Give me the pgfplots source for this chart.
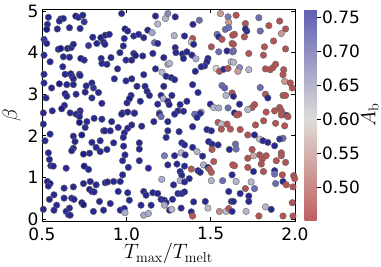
\documentclass[border=0pt]{standalone}
\usepackage[no-math]{fontspec}
\setmainfont{DejaVu Sans}
\usepackage{pgfplots}
\usepackage{pgfplotstable}
\pgfplotsset{compat=1.18}
\pgfplotsset{
  colormap={pts}{rgb255(0)=(170,70,70); rgb255(7)=(188,92,92); rgb255(15)=(216,212,206); rgb255(21)=(160,165,205); rgb255(31.2)=(25,25,140)},
  colormap={cbar}{rgb255(0)=(190,95,95); rgb255(15)=(222,220,215); rgb255(31.2)=(95,95,180)},
}
\pgfplotstableread{
x y z
0.538 4.85 0.75
0.611 4.81 0.76
0.627 4.82 0.75
0.603 4.76 0.75
0.700 4.88 0.76
0.716 4.85 0.75
0.742 4.90 0.75
0.750 4.74 0.74
0.532 4.68 0.75
0.528 4.56 0.76
0.591 4.57 0.75
0.663 4.60 0.75
0.726 4.58 0.75
0.512 4.32 0.74
0.528 4.22 0.75
0.597 4.08 0.75
0.611 4.10 0.76
0.651 4.10 0.75
0.673 4.12 0.75
0.686 4.20 0.75
0.801 4.37 0.75
0.849 4.36 0.76
0.875 4.42 0.75
0.825 4.22 0.75
0.865 4.25 0.75
0.776 4.17 0.74
0.512 3.94 0.75
0.627 3.90 0.75
0.663 3.89 0.75
0.730 3.86 0.76
0.750 3.82 0.75
0.851 3.86 0.75
0.855 3.74 0.75
0.548 3.78 0.75
0.623 3.66 0.75
0.512 3.48 0.75
0.637 3.48 0.75
0.671 3.49 0.76
0.678 3.43 0.75
0.686 3.37 0.75
0.722 3.48 0.75
0.726 3.45 0.75
0.603 3.25 0.76
0.647 3.23 0.75
0.686 3.23 0.75
0.512 3.27 0.75
0.557 3.15 0.75
0.796 3.27 0.75
0.762 3.20 0.75
0.805 3.15 0.74
0.835 3.04 0.75
0.756 3.05 0.75
0.702 3.00 0.75
0.637 3.01 0.76
0.647 2.95 0.75
0.796 2.91 0.75
0.855 2.78 0.75
0.524 2.91 0.75
0.633 2.73 0.75
0.617 2.65 0.76
0.561 2.60 0.75
0.726 2.60 0.75
0.722 2.54 0.75
0.667 2.55 0.75
0.508 2.55 0.75
0.972 4.94 0.75
1.173 4.88 0.75
1.232 4.82 0.64
1.246 4.94 0.68
1.186 4.69 0.64
0.899 4.44 0.75
0.992 4.57 0.76
1.008 4.52 0.75
0.988 4.34 0.75
1.044 4.40 0.75
1.073 4.44 0.75
1.103 4.36 0.75
1.127 4.54 0.75
1.153 4.48 0.66
1.167 4.24 0.70
1.186 4.22 0.75
0.873 4.20 0.75
0.982 4.16 0.75
0.962 4.00 0.75
1.044 3.98 0.75
1.054 3.93 0.76
1.097 3.92 0.75
1.157 3.98 0.75
0.909 3.88 0.75
0.998 3.82 0.75
1.032 3.82 0.75
1.222 3.88 0.75
1.246 3.72 0.65
0.885 3.72 0.75
0.948 3.61 0.75
1.173 3.61 0.75
1.212 3.53 0.64
1.103 3.47 0.75
0.929 3.37 0.75
0.998 3.32 0.75
1.032 3.37 0.75
1.063 3.19 0.75
1.111 3.19 0.75
1.236 3.43 0.75
1.222 3.19 0.75
1.123 3.07 0.75
1.137 2.97 0.75
1.028 2.97 0.75
1.018 2.89 0.76
1.004 2.79 0.75
1.206 2.97 0.75
1.220 2.89 0.65
1.083 2.83 0.75
1.186 2.76 0.75
1.246 2.83 0.75
0.978 2.55 0.75
1.008 2.57 0.75
1.048 2.55 0.75
1.196 2.55 0.70
1.290 4.86 0.75
1.558 4.94 0.56
1.603 4.86 0.69
1.607 4.73 0.56
1.433 4.78 0.70
1.395 4.68 0.75
1.587 4.56 0.70
1.607 4.60 0.70
1.631 4.42 0.49
1.284 4.41 0.64
1.345 4.40 0.75
1.393 4.34 0.49
1.385 4.25 0.62
1.399 4.20 0.75
1.538 4.44 0.70
1.548 4.38 0.75
1.567 4.32 0.49
1.504 4.14 0.49
1.548 4.02 0.70
1.597 4.04 0.75
1.627 4.22 0.49
1.631 4.02 0.70
1.290 4.12 0.75
1.294 4.00 0.75
1.333 3.97 0.75
1.359 4.02 0.75
1.389 3.94 0.75
1.339 3.86 0.75
1.413 3.85 0.65
1.484 3.86 0.75
1.478 3.78 0.75
1.464 3.68 0.75
1.444 3.66 0.75
1.256 3.74 0.64
1.532 3.62 0.60
1.552 3.55 0.49
1.577 3.60 0.75
1.603 3.62 0.49
1.621 3.78 0.64
1.409 3.55 0.75
1.266 3.40 0.75
1.286 3.35 0.75
1.393 3.23 0.75
1.567 3.21 0.70
1.583 3.15 0.71
1.425 3.04 0.75
1.270 2.97 0.75
1.591 2.97 0.64
1.627 3.03 0.49
1.359 2.83 0.75
1.319 2.75 0.75
1.498 2.76 0.75
1.518 2.68 0.64
1.548 2.67 0.65
1.603 2.67 0.70
1.306 2.60 0.75
1.339 2.59 0.75
1.405 2.52 0.70
1.444 2.57 0.64
1.254 2.75 0.75
1.651 4.90 0.49
1.786 4.84 0.70
1.909 4.76 0.49
1.706 4.70 0.49
1.845 4.65 0.49
1.944 4.57 0.49
1.919 4.46 0.56
1.714 4.52 0.75
1.706 4.57 0.75
1.794 4.52 0.70
1.641 4.44 0.49
1.700 4.38 0.49
1.873 4.28 0.49
1.819 4.14 0.49
1.944 4.09 0.49
1.635 4.20 0.49
1.635 4.04 0.70
1.726 3.98 0.49
1.813 3.94 0.49
1.635 3.77 0.64
1.671 3.64 0.68
1.661 3.55 0.56
1.726 3.59 0.64
1.825 3.61 0.49
1.853 3.59 0.49
1.869 3.64 0.49
1.885 3.72 0.49
1.933 3.59 0.49
1.929 3.47 0.49
1.939 3.31 0.56
1.972 3.27 0.49
1.984 3.15 0.49
1.794 3.16 0.70
1.825 3.00 0.49
1.839 2.91 0.75
1.929 2.97 0.49
1.944 2.97 0.49
1.635 2.95 0.75
1.671 2.76 0.75
1.760 2.75 0.49
1.746 2.68 0.49
1.720 2.63 0.64
1.641 2.55 0.75
1.667 2.52 0.49
1.829 2.57 0.49
1.879 2.60 0.49
1.909 2.68 0.49
1.919 2.60 0.49
1.929 2.52 0.49
1.952 2.49 0.75
0.508 2.28 0.75
0.702 2.52 0.75
0.722 2.46 0.75
0.722 2.32 0.76
0.766 2.34 0.75
0.756 2.20 0.75
0.809 2.42 0.75
0.855 2.40 0.75
0.865 2.12 0.75
0.548 2.04 0.75
0.686 1.99 0.75
0.736 2.02 0.76
0.696 1.86 0.75
0.796 1.84 0.75
0.845 1.88 0.75
0.518 1.88 0.75
0.686 1.70 0.75
0.676 1.64 0.75
0.821 1.72 0.75
0.845 1.62 0.75
0.746 1.56 0.76
0.782 1.58 0.75
0.538 1.59 0.75
0.544 1.43 0.75
0.552 1.28 0.75
0.567 1.27 0.75
0.643 1.22 0.75
0.750 1.27 0.76
0.776 1.19 0.75
0.532 0.90 0.76
0.548 0.85 0.76
0.538 0.79 0.75
0.631 0.74 0.75
0.686 0.77 0.75
0.746 0.85 0.75
0.786 0.90 0.75
0.821 0.82 0.75
0.782 0.71 0.76
0.796 0.66 0.76
0.809 0.65 0.75
0.875 0.87 0.75
0.571 0.58 0.75
0.544 0.47 0.75
0.631 0.50 0.75
0.676 0.50 0.75
0.690 0.47 0.75
0.736 0.39 0.76
0.746 0.34 0.76
0.841 0.42 0.75
0.587 0.33 0.75
0.571 0.21 0.75
0.663 0.26 0.75
0.643 0.18 0.75
0.657 0.10 0.75
0.667 0.09 0.75
0.508 0.23 0.75
0.805 0.18 0.75
0.865 0.21 0.75
0.972 2.52 0.75
1.048 2.54 0.75
1.196 2.52 0.75
1.206 2.46 0.70
1.246 2.34 0.75
1.163 2.34 0.75
0.913 2.34 0.75
0.873 2.12 0.75
0.905 2.12 0.75
0.952 2.20 0.75
1.008 2.18 0.75
1.032 2.26 0.75
1.091 2.23 0.75
0.988 2.07 0.75
0.982 1.96 0.75
1.246 2.12 0.75
1.236 1.96 0.75
0.925 1.83 0.75
1.077 1.83 0.75
1.077 1.68 0.75
0.984 1.75 0.75
0.885 1.67 0.75
0.992 1.54 0.75
0.978 1.40 0.75
1.077 1.40 0.75
1.226 1.52 0.69
1.246 1.30 0.75
1.012 1.24 0.75
1.131 1.22 0.75
0.978 1.06 0.75
0.889 0.89 0.75
0.925 0.90 0.75
0.964 0.90 0.75
1.210 0.95 0.65
0.952 0.66 0.75
1.008 0.63 0.75
1.103 0.66 0.75
1.117 0.57 0.75
1.157 0.63 0.75
1.186 0.61 0.75
1.018 0.45 0.75
1.206 0.47 0.75
1.226 0.45 0.75
1.236 0.39 0.75
0.905 0.37 0.75
1.087 0.33 0.75
1.147 0.33 0.75
0.964 0.21 0.75
0.988 0.25 0.75
0.992 0.15 0.65
1.103 0.09 0.66
1.131 0.13 0.65
1.256 0.21 0.75
1.226 0.33 0.65
1.286 2.52 0.75
1.438 2.54 0.75
1.419 2.44 0.75
1.544 2.32 0.50
1.563 2.28 0.63
1.597 2.28 0.50
1.563 2.16 0.50
1.617 2.16 0.50
1.393 2.22 0.75
1.478 2.15 0.75
1.504 2.12 0.75
1.313 2.10 0.75
1.329 1.83 0.75
1.345 1.78 0.75
1.488 1.86 0.75
1.508 1.80 0.75
1.544 1.78 0.75
1.393 1.72 0.75
1.508 1.67 0.50
1.611 1.67 0.75
1.286 1.52 0.75
1.325 1.59 0.64
1.349 1.54 0.75
1.419 1.62 0.64
1.452 1.51 0.75
1.518 1.38 0.50
1.631 1.30 0.50
1.300 1.32 0.75
1.345 1.27 0.75
1.385 1.20 0.50
1.425 1.16 0.75
1.438 1.12 0.75
1.458 1.30 0.64
1.484 1.24 0.75
1.492 1.20 0.50
1.504 1.12 0.50
1.627 1.06 0.75
1.319 1.14 0.75
1.329 1.05 0.75
1.319 0.92 0.64
1.345 0.89 0.75
1.373 0.97 0.75
1.504 0.92 0.64
1.571 0.92 0.70
1.280 0.82 0.75
1.607 0.66 0.75
1.306 0.61 0.75
1.329 0.61 0.75
1.345 0.65 0.75
1.274 0.47 0.75
1.399 0.41 0.75
1.468 0.42 0.75
1.484 0.26 0.63
1.623 0.42 0.75
1.270 0.23 0.64
1.325 0.26 0.75
1.385 0.17 0.75
1.393 0.07 0.50
1.552 0.18 0.55
1.591 0.18 0.63
1.607 0.25 0.50
1.627 0.18 0.75
1.655 2.50 0.49
1.919 2.50 0.49
1.958 2.46 0.49
1.766 2.26 0.49
1.814 2.36 0.49
1.885 2.30 0.49
1.939 2.24 0.49
1.675 2.15 0.49
1.720 2.02 0.49
1.760 2.02 0.75
1.790 1.92 0.62
1.810 1.88 0.75
1.839 1.84 0.75
1.879 1.76 0.75
1.929 1.94 0.70
1.909 1.92 0.74
1.647 1.80 0.70
1.651 1.68 0.70
1.746 1.67 0.49
1.790 1.54 0.49
1.829 1.52 0.49
1.754 1.52 0.57
1.720 1.46 0.49
1.806 1.44 0.49
1.919 1.59 0.49
1.919 1.52 0.49
1.889 1.40 0.49
1.944 1.36 0.49
1.720 1.24 0.49
1.800 1.32 0.49
1.641 1.28 0.49
1.754 1.14 0.75
1.813 1.14 0.49
1.879 1.16 0.75
1.879 1.08 0.70
1.925 1.06 0.49
1.992 1.04 0.48
1.998 0.97 0.49
1.651 0.90 0.64
1.740 0.89 0.64
1.885 0.85 0.70
1.929 0.90 0.75
1.948 0.82 0.49
1.988 0.77 0.49
1.706 0.73 0.49
1.760 0.73 0.70
1.675 0.61 0.75
1.726 0.55 0.75
1.726 0.42 0.75
1.635 0.42 0.75
1.984 0.39 0.49
1.825 0.29 0.64
1.859 0.23 0.75
1.710 0.18 0.64
1.929 0.07 0.49
1.988 0.07 0.49
1.786 0.07 0.49
}\datatable
\begin{document}
\begin{tikzpicture}
\begin{axis}[
  scale only axis,
  width=253pt, height=212pt,
  xmin=0.5, xmax=2.0, ymin=-0.05, ymax=5.05,
  xtick={0.5,1.0,1.5,2.0},
  ytick={0,1,2,3,4,5},
  xticklabel style={yshift=-3pt, /pgf/number format/fixed, /pgf/number format/fixed zerofill, /pgf/number format/precision=1},
  /pgf/number format/assume math mode=true,
  tick label style={font=\fontsize{17}{20}\selectfont},
  label style={font=\fontsize{20}{24}\selectfont},
  major tick length=4pt,
  tick style={black, line width=0.6pt},
  axis line style={line width=0.8pt},
  xlabel={$T_{\max}/T_{\mathrm{melt}}$},
  ylabel={$\beta$},
  xlabel style={at={(axis description cs:0.5,-0.179)}, anchor=base},
  ylabel style={at={(axis description cs:-0.119,0.5)}, anchor=center},
  colormap name=pts,
  point meta min=0.45, point meta max=0.762,
  colorbar,
  colorbar style={
    colormap name=cbar,
    width=12pt,
    at={(parent axis.north east)}, anchor=north west, xshift=1pt,
    ytick={0.50,0.55,0.60,0.65,0.70,0.75},
    yticklabel style={xshift=-2pt, /pgf/number format/fixed, /pgf/number format/fixed zerofill, /pgf/number format/precision=2},
    /pgf/number format/assume math mode=true,
    tick label style={font=\fontsize{17}{20}\selectfont},
    ytick pos=right, tick align=outside, major tick length=4pt,
    axis line style={draw=none},
    ylabel={$A_{\mathrm{b}}$},
    ylabel style={font=\fontsize{20}{24}\selectfont, at={(axis description cs:5.45,0.5)}, anchor=center},
  },
]
\addplot[scatter, only marks, mark=*, mark size=3.3pt,
  scatter src=explicit,
  scatter/use mapped color={draw=gray!80!black, fill=mapped color},
  mark options={line width=0.4pt}]
  table[x=x, y=y, meta=z] {\datatable};
\end{axis}
\pgfresetboundingbox
\path ([shift={(-42pt,-46pt)}]current axis.south west) rectangle ([shift={(86pt,9pt)}]current axis.north east);
\end{tikzpicture}
\end{document}
